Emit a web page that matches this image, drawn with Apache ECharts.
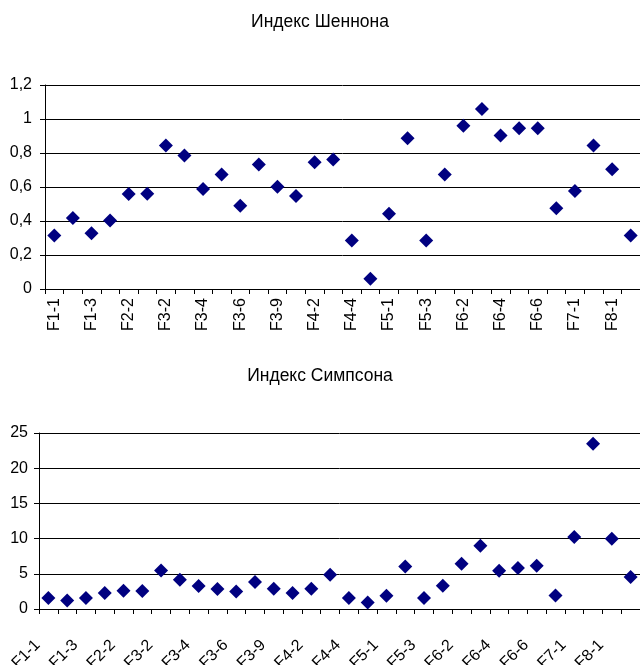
<!DOCTYPE html>
<html>
<head>
<meta charset="utf-8">
<script src="https://cdn.jsdelivr.net/npm/echarts@6/dist/echarts.min.js"></script>
<style>
html,body{margin:0;padding:0;background:#fff;}
#chart{width:640px;height:665px;}
</style>
</head>
<body>
<div id="chart"></div>
<script>
const categories = ['F1-1','F1-2','F1-3','F2-1','F2-2','F3-1','F3-2','F3-3','F3-4','F3-5','F3-6','F3-8','F3-9','F4-1','F4-2','F4-3','F4-4','F4-5','F5-1','F5-2','F5-3','F6-1','F6-2','F6-3','F6-4','F6-5','F6-6','F6-7','F7-1','F7-2','F8-1','F8-2'];
const shannon = [0.315,0.418,0.328,0.403,0.559,0.561,0.844,0.786,0.588,0.674,0.489,0.733,0.602,0.547,0.745,0.762,0.285,0.061,0.442,0.887,0.285,0.674,0.96,1.059,0.903,0.946,0.946,0.475,0.577,0.844,0.704,0.315];
const simpson = [1.56,1.22,1.56,2.27,2.6,2.56,5.48,4.16,3.25,2.84,2.5,3.83,2.88,2.27,2.88,4.87,1.56,0.94,1.89,6.05,1.56,3.3,6.43,8.99,5.44,5.82,6.15,1.93,10.23,23.48,9.99,4.55];
const titles = ['Индекс Шеннона','Индекс Симпсона'];

const FONT = 'Liberation Sans, Arial, sans-serif';
const FS = 16;
const chart = echarts.init(document.getElementById('chart'), null, {renderer:'canvas'});
const axisLineStyle = {color:'#000', width:1};
chart.setOption({
  animation:false,
  backgroundColor:'#fff',
  textStyle:{fontFamily:FONT},
  title:[
    {text:titles[0], left:'center', top:8, textStyle:{fontFamily:FONT, fontSize:17.5, fontWeight:'normal', color:'#000'}},
    {text:titles[1], left:'center', top:362, textStyle:{fontFamily:FONT, fontSize:17.5, fontWeight:'normal', color:'#000'}}
  ],
  grid:[
    {left:45, top:85, right:0, bottom:376, containLabel:false, outerBoundsMode:'none'},
    {left:39, top:433, right:0, bottom:56, containLabel:false, outerBoundsMode:'none'}
  ],
  xAxis:[
    {type:'category', gridIndex:0, data:categories, boundaryGap:true,
     axisLine:{lineStyle:axisLineStyle}, axisTick:{show:true, interval:0, length:5, lineStyle:axisLineStyle},
     axisLabel:{interval:1, rotate:90, margin:9, fontSize:FS, fontFamily:FONT, color:'#000'}},
    {type:'category', gridIndex:1, data:categories, boundaryGap:true,
     axisLine:{lineStyle:axisLineStyle}, axisTick:{show:true, interval:0, length:5, lineStyle:axisLineStyle},
     axisLabel:{interval:1, rotate:45, margin:23, padding:[0,15,0,0], fontSize:FS, fontFamily:FONT, color:'#000'}}
  ],
  yAxis:[
    {type:'value', gridIndex:0, min:0, max:1.2, interval:0.2,
     axisLine:{show:true, lineStyle:axisLineStyle}, axisTick:{show:true, length:5, lineStyle:axisLineStyle},
     splitLine:{show:true, lineStyle:{color:'#000', width:1}},
     axisLabel:{margin:13, fontSize:FS, fontFamily:FONT, color:'#000',
       formatter:v=>String(Math.round(v*10)/10).replace('.',',')}},
    {type:'value', gridIndex:1, min:0, max:25, interval:5,
     axisLine:{show:true, lineStyle:axisLineStyle}, axisTick:{show:true, length:5, lineStyle:axisLineStyle},
     splitLine:{show:true, lineStyle:{color:'#000', width:1}},
     axisLabel:{margin:11, fontSize:FS, fontFamily:FONT, color:'#000'}}
  ],
  series:[
    {type:'scatter', xAxisIndex:0, yAxisIndex:0, data:shannon, symbol:'diamond', symbolSize:[14,14], itemStyle:{color:'#000080', opacity:1}},
    {type:'scatter', xAxisIndex:1, yAxisIndex:1, data:simpson, symbol:'diamond', symbolSize:[14,14], itemStyle:{color:'#000080', opacity:1}}
  ]
});
</script>
</body>
</html>
